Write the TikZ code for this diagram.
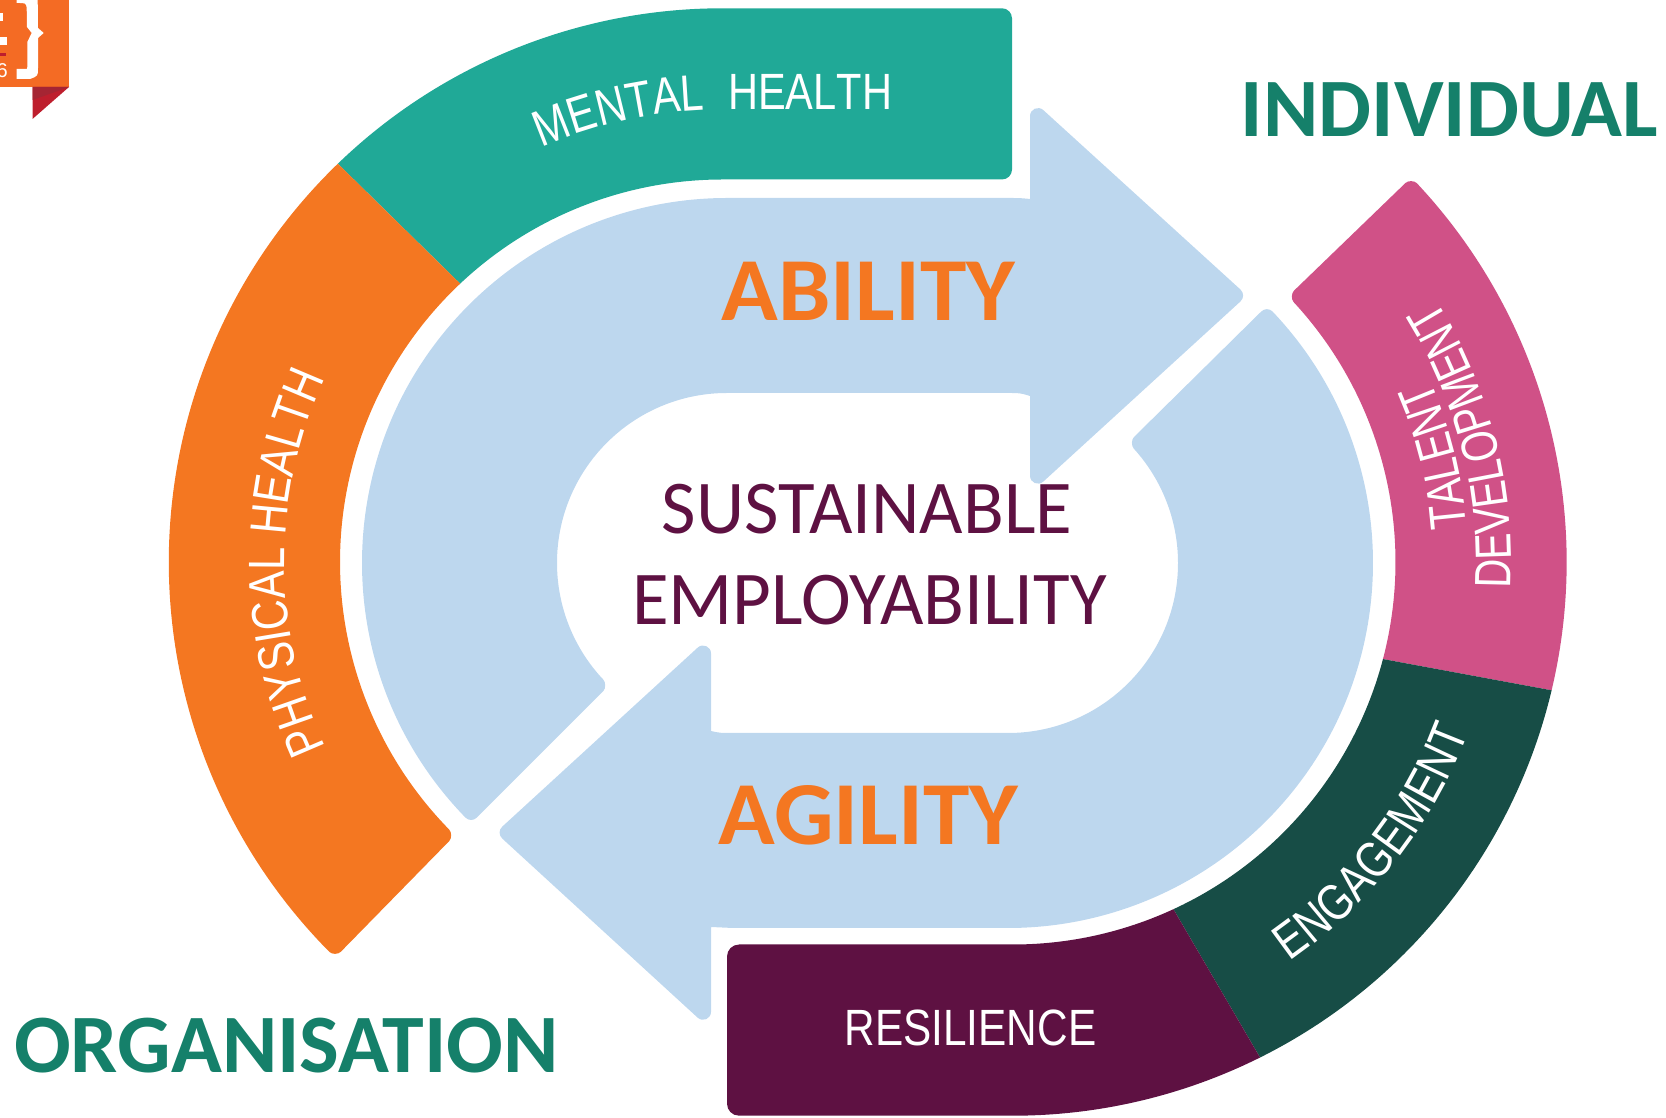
\documentclass[tikz,border=0pt]{standalone}
\usepackage{fontspec}
\usetikzlibrary{decorations.text}
\setmainfont{Liberation Sans}
\newfontfamily\kwfam[FakeStretch=1.04]{Carlito}
\newfontfamily\hdfam[FakeStretch=1.012]{Carlito}
\newfontfamily\cenfam[FakeStretch=0.987]{Carlito}
\newfontfamily\lblfam[FakeStretch=0.815]{Liberation Sans}
\newfontfamily\lblbfam[FakeStretch=0.785]{Liberation Sans}
\newfontfamily\resfam[FakeStretch=0.83]{Liberation Sans}
\newcommand\lblfont{\lblfam\fontsize{51}{51}\selectfont\color{white}}
\newcommand\lblbfont{\lblbfam\fontsize{51}{51}\selectfont\color{white}}
\definecolor{cteal}{HTML}{20A997}
\definecolor{corange}{HTML}{F47721}
\definecolor{cpink}{HTML}{D05187}
\definecolor{cdark}{HTML}{174D46}
\definecolor{cplum}{HTML}{5E1142}
\definecolor{cblue}{HTML}{BDD7EE}
\definecolor{cgreen}{HTML}{15806A}
\definecolor{clogo}{HTML}{F46B24}
\definecolor{cfolda}{HTML}{BE1E2D}
\definecolor{cfoldb}{HTML}{A52533}
\tikzset{
  headline/.style={font=\hdfam\bfseries\fontsize{83}{83}\selectfont,text=cgreen,anchor=base,inner sep=0pt},
  keyword/.style={font=\kwfam\bfseries\fontsize{90}{90}\selectfont,text=corange,anchor=base,inner sep=0pt},
  centre/.style={anchor=base,inner sep=0pt,text=cplum,font=\cenfam\fontsize{76}{76}\selectfont},
  curvetext/.style={decorate,decoration={text along path,text={#1}}}
}
\begin{document}
\begin{tikzpicture}[x=1pt,y=1pt]
\useasboundingbox (0,0) rectangle (1666,1117);
\coordinate (CL) at (722.5,555);
\coordinate (CR) at (1013,555);
\coordinate (BL) at (727,554);
\coordinate (BR) at (1008,554);
% logo
\fill[clogo] (0,1117) rectangle (69,1030);
\fill[cfolda] (32.5,1030) -- (69,1030) -- (32.5,998) -- cycle;
\fill[cfoldb] (32.5,1030) -- (69,1030) -- (32.5,1017) -- cycle;
\fill[white] (16.7,1117) -- (37.7,1117) -- (38,1089) -- (43.7,1084) -- (38,1079) -- (38,1049)
  .. controls (38,1041) .. (30,1038) -- (16.7,1038) -- (16.7,1048) -- (25,1048)
  .. controls (27.3,1048) .. (27.3,1050) -- (27.3,1075) -- (31.7,1084) -- (27,1090) -- (26.7,1109)
  .. controls (26,1114) .. (16.7,1114) -- cycle;
\fill[white] (0,1104) rectangle (3.3,1096);
\fill[white] (0,1080) rectangle (6.5,1072);
\fill[cfolda] (0,1064) rectangle (6,1061);
\node[anchor=base east,inner sep=0pt,text=white,font=\fontsize{20}{20}\selectfont] (logosix) at (8,1039) {6};
% blue arrow: ability
\fill[cblue] ([shift={(BL)}]226:178) -- ([shift={(BL)}]225.5:357)
  .. controls ([shift={(BL)}]225.5:361.4) and ([shift={(BL)}]224.93:365) .. ([shift={(BL)}]224.24:365)
  arc[start angle=224.24,end angle=90,radius=365] -- (1008,919)
  .. controls (1020,919) .. (1030,918) -- (1030,1001)
  .. controls (1030,1007.9) and (1038.2,1011.5) .. (1043.3,1006.9)
  -- (1240.3,827.6) .. controls (1244.1,824.1) and (1244.1,818.9) .. (1240.3,815.4)
  -- (1043.3,635.4) .. controls (1038.2,630.8) and (1030,634.2) .. (1030,641.3) -- (1030,721)
  .. controls (1020,724) .. (1008,724) -- (727,724)
  arc[start angle=90,end angle=223.3,radius=170]
  .. controls ([shift={(BL)}]224.5:170) and ([shift={(BL)}]226:174.4) .. ([shift={(BL)}]226:178) -- cycle;
% blue arrow: agility
\fill[cblue] ([shift={(BR)}]45:178) -- ([shift={(BR)}]44.8:357)
  .. controls ([shift={(BR)}]44.8:361.4) and ([shift={(BR)}]44.23:365) .. ([shift={(BR)}]43.54:365)
  arc[start angle=43.54,end angle=-90,radius=365] -- (733,189)
  .. controls (722,189) .. (711,190) -- (711,105.1)
  .. controls (711,98.2) and (702.8,94.6) .. (697.7,99.3)
  -- (502.4,278.3) .. controls (498.6,281.8) and (498.6,287) .. (502.4,290.5)
  -- (697.7,469.4) .. controls (702.8,474.1) and (711,470.5) .. (711,463.6) -- (711,386)
  .. controls (720,384) .. (733,384) -- (1008,384)
  arc[start angle=-90,end angle=42.3,radius=170]
  .. controls ([shift={(BR)}]43.5:170) and ([shift={(BR)}]45:174.4) .. ([shift={(BR)}]45:178) -- cycle;
% ring
\fill[cteal] ([shift={(CL)}]134:553.7) arc[start angle=134,end angle=90,radius=553.7]
  -- (1002,1108.7) .. controls (1007.5,1108.7) and (1012,1104.2) .. (1012,1098.7) -- (1012,947.5)
  .. controls (1012,942) and (1007.5,937.5) .. (1002,937.5) -- (722.5,937.5)
  arc[start angle=90,end angle=133.3,radius=382.5] -- cycle;
\fill[corange] ([shift={(CL)}]134:553.7) arc[start angle=134,end angle=224.77,radius=553.7]
  .. controls ([shift={(CL)}]225.15:553.7) and ([shift={(CL)}]225.6:549.3) .. ([shift={(CL)}]225.6:545.7)
  -- ([shift={(CL)}]225.6:390.5) .. controls ([shift={(CL)}]225.6:386.9) and ([shift={(CL)}]224.94:382.5) .. ([shift={(CL)}]224.4:382.5)
  arc[start angle=224.4,end angle=133.3,radius=382.5] -- cycle;
\fill[cpink] ([shift={(CR)}]-13.4:553.7) arc[start angle=-13.4,end angle=43.17,radius=553.7]
  .. controls ([shift={(CR)}]43.55:553.7) and ([shift={(CR)}]44:549.3) .. ([shift={(CR)}]44:545.7)
  -- ([shift={(CR)}]44:390.5) .. controls ([shift={(CR)}]44:386.9) and ([shift={(CR)}]43.34:382.5) .. ([shift={(CR)}]42.8:382.5)
  arc[start angle=42.8,end angle=-14.7,radius=382.5] -- cycle;
\fill[cdark] ([shift={(CR)}]-63.5:553.7) arc[start angle=-63.5,end angle=-13.4,radius=553.7]
  -- ([shift={(CR)}]-14.7:382.5) arc[start angle=-14.7,end angle=-65.2,radius=382.5] -- cycle;
\fill[cplum] ([shift={(CR)}]-63.5:553.7) arc[start angle=-63.5,end angle=-90,radius=553.7]
  -- (739,1.3) .. controls (732.4,1.3) and (727,6.7) .. (727,13.3) -- (727,160.5)
  .. controls (727,167.1) and (732.4,172.5) .. (739,172.5) -- (1013,172.5)
  arc[start angle=-90,end angle=-65.2,radius=382.5] -- cycle;
% ring labels
\path[curvetext={|\lblfont|MENTAL{ }{ }HEALTH}] ([shift={(CL)}]113.6:452) arc[start angle=113.6,end angle=90,radius=452] -- (920,1007);
\path[curvetext={|\lblfont|PHYSICAL HEALTH}] ([shift={(CL)}]205:438) arc[start angle=205,end angle=150,radius=438];
\path[curvetext={|\lblfont|ENGAGEMENT}] ([shift={(CR)}]-55.3:486) arc[start angle=-55.3,end angle=-16,radius=486];
\path[curvetext={|\lblbfont|TALENT}] ([shift={(CR)}]4.3:455) arc[start angle=4.3,end angle=28,radius=455];
\path[curvetext={|\lblbfont|DEVELOPMENT}] ([shift={(CR)}]-3:498) arc[start angle=-3,end angle=36,radius=498];
\node[anchor=base,inner sep=0pt,text=white,font=\resfam\fontsize{51}{51}\selectfont] (resil) at (970.5,71.3) {RESILIENCE};
% big words
\node[headline] (indiv) at (1449.5,980.6) {INDIVIDUAL};
\node[headline] (organ) at (286.5,45) {ORGANISATION};
\node[keyword] (abil) at (868.5,796) {ABILITY};
\node[keyword] (agil) at (868.5,272) {AGILITY};
\node[centre] (sust) at (867,583) {SUSTAINABLE};
\node[centre] (empl) at (869.5,492) {EMPLOYABILITY};
\end{tikzpicture}
\end{document}
